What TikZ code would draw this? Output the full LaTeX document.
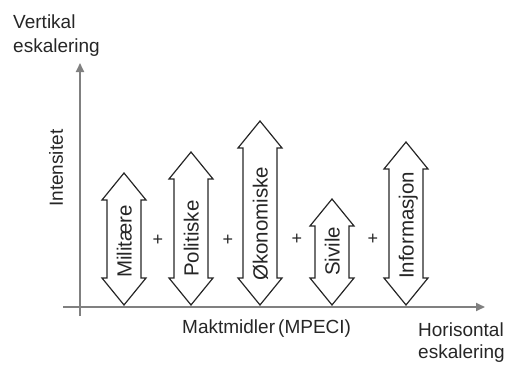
\documentclass[tikz,border=0pt]{standalone}
\usepackage{fontspec}
\setmainfont{Liberation Sans}
\usetikzlibrary{arrows.meta}
\tikzset{
  axis/.style={draw=black!50, line width=1.8pt, -{Triangle[length=9pt,width=8pt]}},
  lbl/.style={font=\fontsize{19}{23}\selectfont, text=black!85, inner sep=0pt},
  albl/.style={font=\fontsize{20.5}{24}\selectfont, text=black!85, inner sep=0pt, rotate=90, anchor=base west},
  plus/.style={font=\fontsize{18}{20}\selectfont, text=black!85, inner sep=0pt},
  dblarrow/.style={draw=black!85, line width=1.2pt, line join=miter},
}
\newcommand{\dblarr}[3]{% center x, top y, name
  \draw[dblarrow] (#1,#2) -- ++(22,27) -- ++(-5,0) -- (#1+17,278) -- ++(5,0) -- (#1,305) -- (#1-22,278) -- ++(5,0) -- (#1-17,#2+27) -- ++(-5,0) -- cycle;
  \coordinate (#3) at (#1,305);
}
\begin{document}
\begin{tikzpicture}[x=1pt,y=-1pt]
\useasboundingbox (0,0) rectangle (507,367);
% axes
\coordinate (o1) at (63,307);
\coordinate (xend) at (485,307);
\coordinate (o2) at (80,316);
\coordinate (yend) at (80,63);
\draw[axis] (o1) -- (xend);
\draw[axis] (o2) -- (yend);
% double arrows
\dblarr{124}{173}{a1}
\dblarr{191}{152}{a2}
\dblarr{260}{121}{a3}
\dblarr{332}{199}{a4}
\dblarr{406}{142}{a5}
\node[albl] (t1) at (131.5,278) {Militære};
\node[albl] (t2) at (198.5,277) {Politiske};
\node[albl] (t3) at (267.5,281) {Økonomiske};
\node[albl] (t4) at (339.5,276) {Sivile};
\node[albl] (t5) at (413.5,279) {Informasjon};
% plus signs
\node[plus] (p1) at (158,240) {+};
\node[plus] (p2) at (228,240) {+};
\node[plus] (p3) at (297,239) {+};
\node[plus] (p4) at (373,239) {+};
% labels
\node[lbl, anchor=base west] (v1) at (13,28) {Vertikal};
\node[lbl, anchor=base west] (v2) at (13,52) {eskalering};
\node[lbl, rotate=90, anchor=base west] (int) at (63,207) {Intensitet};
\node[lbl, anchor=base west] (mm) at (182,333) {Maktmidler\,(MPECI)};
\node[lbl, anchor=base west] (h1) at (418,336) {Horisontal};
\node[lbl, anchor=base west] (h2) at (418,358) {eskalering};
\end{tikzpicture}
\end{document}
